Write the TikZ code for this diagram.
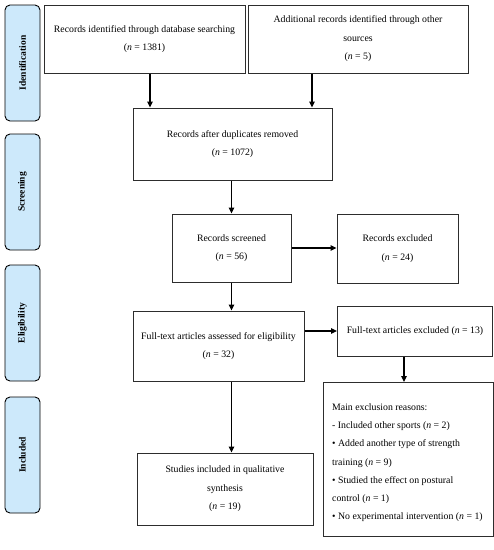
\documentclass[tikz,border=0pt]{standalone}
\usepackage{fontspec}
\setmainfont{Liberation Serif}
\usetikzlibrary{arrows.meta}
\definecolor{sidefill}{RGB}{205,233,251}
\definecolor{boxline}{RGB}{45,45,45}
\begin{document}
\begin{tikzpicture}[x=1pt,y=-1pt,
  box/.style={draw=boxline,line width=1pt,inner sep=2pt,align=center,
    font={\fontsize{9.8}{18.5}\selectfont}},
  side/.style={draw=black,line width=0.9pt,fill=sidefill,rounded corners=5pt,
    minimum width=35pt,minimum height=116pt,inner sep=0pt},
  sidetext/.style={rotate=90,font={\fontsize{9.5}{11}\selectfont\bfseries}},
  arr/.style={line width=1.1pt,-{Triangle[length=6pt,width=5.5pt]}}]
\useasboundingbox (0,0) rectangle (494,550);
% side labels
\node[side] (s1) at (22.5,63) {};
\node[sidetext] (s1t) at (s1.center) {Identification};
\node[side] (s2) at (22.5,192) {};
\node[sidetext] (s2t) at (s2.center) {Screening};
\node[side] (s3) at (22.5,323) {};
\node[sidetext] (s3t) at (s3.center) {Eligibility};
\node[side] (s4) at (22.5,455) {};
\node[sidetext] (s4t) at (s4.center) {Included};
% boxes
\node[box,minimum width=201pt,minimum height=68pt] (b1) at (144.5,39)
  {Records identified through database searching\\(\textit{n} = 1381)};
\node[box,minimum width=220pt,minimum height=68pt] (b2) at (358,39)
  {Additional records identified through other\\sources\\(\textit{n} = 5)};
\node[box,minimum width=199pt,minimum height=72pt] (b3) at (232.5,144)
  {Records after duplicates removed\\(\textit{n} = 1072)};
\node[box,minimum width=119pt,minimum height=68pt] (b4) at (231.5,248)
  {Records screened\\(\textit{n} = 56)};
\node[box,minimum width=121pt,minimum height=69pt] (b5) at (397.5,248.5)
  {Records excluded\\(\textit{n} = 24)};
\node[box,minimum width=171pt,minimum height=70pt] (b6) at (218.5,346)
  {Full-text articles assessed for eligibility\\(\textit{n} = 32)};
\node[box,minimum width=155pt,minimum height=50pt] (b7) at (415,331)
  {Full-text articles excluded (\textit{n} = 13)};
\node[box,minimum width=170pt,minimum height=154pt,anchor=north] (b8) at (408,382) {};
\node[anchor=north west,inner sep=0pt,align=left,
  font={\fontsize{9.8}{18.2}\selectfont}] (b8t) at (332,403.5)
  {Main exclusion reasons:\\
   - Included other sports (\textit{n} = 2)\\
   • Added another type of strength\\
   training (\textit{n} = 9)\\
   • Studied the effect on postural\\
   control (\textit{n} = 1)\\
   • No experimental intervention (\textit{n} = 1)};
\node[box,minimum width=176pt,minimum height=72pt] (b9) at (225,489)
  {Studies included in qualitative\\synthesis\\(\textit{n} = 19)};
% arrows
\draw[arr] ([xshift=5.5pt]b1.south) -- ([xshift=5.5pt]b1.south |- b3.north);
\draw[arr] ([xshift=-46pt]b2.south) -- ([xshift=-46pt]b2.south |- b3.north);
\draw[arr] ([xshift=-1pt]b3.south) -- ([xshift=-1pt]b3.south |- b4.north);
\draw[arr] (b4.east) -- (b4.east -| b5.west);
\draw[arr] (b4.south) -- (b4.south |- b6.north);
\draw[arr] (b6.east |- b7.west) -- (b7.west);
\draw[arr] ([xshift=-11pt]b7.south) -- ([xshift=-11pt]b7.south |- b8.north);
\draw[arr] (b6.south -| b4.south) -- (b4.south |- b9.north);
\end{tikzpicture}
\end{document}
